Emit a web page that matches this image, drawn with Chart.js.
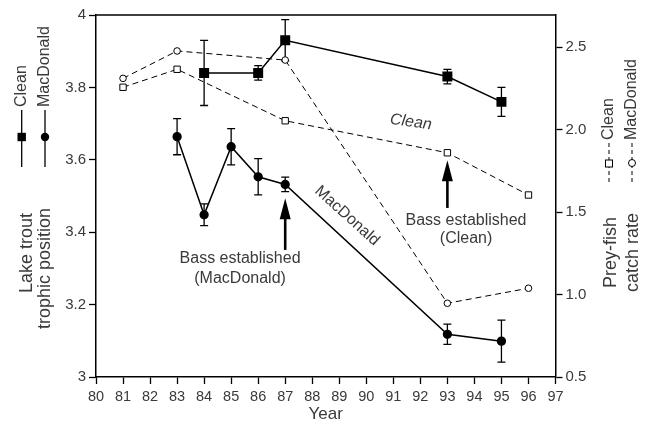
<!DOCTYPE html>
<html>
<head>
<meta charset="utf-8">
<script src="https://cdn.jsdelivr.net/npm/chart.js@4.4.0/dist/chart.umd.min.js"></script>
<style>
  html, body { margin: 0; padding: 0; background: #fff; }
  #wrap { width: 652px; height: 423px; }
</style>
</head>
<body>
<div id="wrap"><canvas id="chart"></canvas></div>
<script>
// lake trout trophic position (left axis)
const cleanTpYears = [84, 86, 87, 93, 95];
const cleanTp = [3.84, 3.84, 3.93, 3.83, 3.76];
const cleanTpErr = [0.09, 0.02, 0.057, 0.02, 0.04];

const macTpYears = [83, 84, 85, 86, 87, 93, 95];
const macTp = [3.664, 3.448, 3.636, 3.553, 3.532, 3.118, 3.099];
const macTpErr = [0.05, 0.03, 0.05, 0.05, 0.02, 0.028, 0.058];

// prey-fish catch rate (right axis)
const preyYears = [81, 83, 87, 93, 96];
const cleanPrey = [2.256, 2.365, 2.053, 1.859, 1.603];
const macPrey = [2.31, 2.476, 2.421, 0.947, 1.038];

const leftTicks = [3, 3.2, 3.4, 3.6, 3.8, 4];
const rightTicks = [0.5, 1.0, 1.5, 2.0, 2.5];

// bass arrows: year, tip and tail on the left axis
const arrowYears = [87, 93];
const arrowTip = [3.494, 3.599];
const arrowTail = [3.351, 3.467];

const FONT = '"Liberation Sans", Arial, Helvetica, sans-serif';
const TXT = '#3a3a3a';

function pts(xs, ys) { return xs.map((x, i) => ({ x: x, y: ys[i] })); }

const errorBars = {
  id: 'errorBars',
  beforeDatasetsDraw(chart) {
    const ctx = chart.ctx, sx = chart.scales.x, sy = chart.scales.y;
    ctx.save();
    ctx.strokeStyle = '#000';
    ctx.lineWidth = 1.3;
    const sets = [[cleanTpYears, cleanTp, cleanTpErr], [macTpYears, macTp, macTpErr]];
    sets.forEach(([xs, ys, es]) => {
      xs.forEach((yr, i) => {
        const px = sx.getPixelForValue(yr);
        const top = sy.getPixelForValue(ys[i] + es[i]);
        const bot = sy.getPixelForValue(ys[i] - es[i]);
        ctx.beginPath();
        ctx.moveTo(px, top); ctx.lineTo(px, bot);
        ctx.moveTo(px - 4, top); ctx.lineTo(px + 4, top);
        ctx.moveTo(px - 4, bot); ctx.lineTo(px + 4, bot);
        ctx.stroke();
      });
    });
    ctx.restore();
  }
};

function rotText(ctx, text, x, y, align, base, font) {
  ctx.save();
  ctx.translate(x, y);
  ctx.rotate(-Math.PI / 2);
  ctx.font = font;
  ctx.textAlign = align;
  ctx.textBaseline = base;
  ctx.fillText(text, 0, 0);
  ctx.restore();
}

const extras = {
  id: 'extras',
  afterDraw(chart) {
    const ctx = chart.ctx, sx = chart.scales.x, sy = chart.scales.y;
    const a = chart.chartArea;
    ctx.save();
    // top frame line
    ctx.strokeStyle = '#000';
    ctx.lineWidth = 1.5;
    ctx.beginPath();
    ctx.moveTo(a.left, a.top); ctx.lineTo(a.right, a.top);
    ctx.stroke();

    // arrows
    arrowYears.forEach((yr, i) => {
      const px = sx.getPixelForValue(yr);
      const tip = sy.getPixelForValue(arrowTip[i]);
      const tail = sy.getPixelForValue(arrowTail[i]);
      ctx.lineWidth = 2.6;
      ctx.beginPath();
      ctx.moveTo(px, tail); ctx.lineTo(px, tip + 15);
      ctx.stroke();
      ctx.fillStyle = '#000';
      ctx.beginPath();
      ctx.moveTo(px, tip);
      ctx.lineTo(px - 5.5, tip + 21);
      ctx.lineTo(px + 5.5, tip + 21);
      ctx.closePath();
      ctx.fill();
    });

    ctx.fillStyle = TXT;
    ctx.font = '16px ' + FONT;
    ctx.textAlign = 'center';
    ctx.textBaseline = 'middle';
    ctx.fillText('Bass established', sx.getPixelForValue(85.33), sy.getPixelForValue(3.326));
    ctx.fillText('(MacDonald)', sx.getPixelForValue(85.33), sy.getPixelForValue(3.273));
    ctx.fillText('Bass established', sx.getPixelForValue(93.69), sy.getPixelForValue(3.431));
    ctx.fillText('(Clean)', sx.getPixelForValue(93.69), sy.getPixelForValue(3.381));

    // line labels
    ctx.save();
    ctx.translate(sx.getPixelForValue(91.65), sy.getPixelForValue(3.704));
    ctx.rotate(7.5 * Math.PI / 180);
    ctx.font = 'italic 16px ' + FONT;
    ctx.fillText('Clean', 0, 0);
    ctx.restore();
    ctx.save();
    ctx.translate(sx.getPixelForValue(89.29), sy.getPixelForValue(3.445));
    ctx.rotate(42 * Math.PI / 180);
    ctx.font = '16px ' + FONT;
    ctx.fillText('MacDonald', 0, 0);
    ctx.restore();

    // axis titles
    ctx.font = '17px ' + FONT;
    ctx.fillText('Year', (a.left + a.right) / 2, 414);
    rotText(ctx, 'Lake trout', 32, 213, 'right', 'alphabetic', '18px ' + FONT);
    rotText(ctx, 'trophic position', 50, 208, 'right', 'alphabetic', '18px ' + FONT);
    rotText(ctx, 'Prey-fish', 616, 217, 'right', 'alphabetic', '18px ' + FONT);
    rotText(ctx, 'catch rate', 638, 213, 'right', 'alphabetic', '18px ' + FONT);

    // left legend (solid lines, filled markers)
    ctx.strokeStyle = '#000';
    ctx.fillStyle = '#000';
    ctx.lineWidth = 1.3;
    [[21.7, 'sq'], [45, 'ci']].forEach(([lx, m]) => {
      ctx.beginPath();
      ctx.moveTo(lx, 110); ctx.lineTo(lx, 167);
      ctx.stroke();
      if (m === 'sq') ctx.fillRect(lx - 4.2, 137 - 4.2, 8.4, 8.4);
      else { ctx.beginPath(); ctx.arc(lx, 137, 4.2, 0, Math.PI * 2); ctx.fill(); }
    });
    ctx.fillStyle = TXT;
    rotText(ctx, 'Clean', 22, 107, 'left', 'middle', '16px ' + FONT);
    rotText(ctx, 'MacDonald', 45, 107, 'left', 'middle', '16px ' + FONT);

    // right legend (dashed lines, open markers)
    ctx.strokeStyle = '#000';
    ctx.lineWidth = 1;
    [[609, 'sq'], [632, 'ci']].forEach(([lx, m]) => {
      ctx.setLineDash([4, 3]);
      ctx.beginPath();
      ctx.moveTo(lx, 143); ctx.lineTo(lx, 185);
      ctx.stroke();
      ctx.setLineDash([]);
      ctx.fillStyle = '#fff';
      if (m === 'sq') { ctx.fillRect(lx - 3.5, 160, 7, 7); ctx.strokeRect(lx - 3.5, 160, 7, 7); }
      else { ctx.beginPath(); ctx.arc(lx, 163, 3.5, 0, Math.PI * 2); ctx.fill(); ctx.stroke(); }
    });
    ctx.fillStyle = TXT;
    rotText(ctx, 'Clean', 609, 140, 'left', 'middle', '16px ' + FONT);
    rotText(ctx, 'MacDonald', 632, 140, 'left', 'middle', '16px ' + FONT);
    ctx.restore();
  }
};

const axisCommon = {
  border: { color: '#000', width: 1.5 },
  grid: { display: true, drawOnChartArea: false, tickLength: 7, tickColor: '#000', tickWidth: 1.3 },
  ticks: { color: TXT, font: { family: FONT, size: 15 }, padding: 3 }
};

new Chart(document.getElementById('chart'), {
  type: 'line',
  data: {
    datasets: [
      {
        label: 'Clean trophic',
        data: pts(cleanTpYears, cleanTp),
        yAxisID: 'y',
        borderColor: '#000', borderWidth: 1.5,
        pointStyle: 'rect', pointRadius: 6, pointBackgroundColor: '#000', pointBorderColor: '#000',
        order: 0
      },
      {
        label: 'MacDonald trophic',
        data: pts(macTpYears, macTp),
        yAxisID: 'y',
        borderColor: '#000', borderWidth: 1.5,
        pointStyle: 'circle', pointRadius: 3.9, pointBackgroundColor: '#000', pointBorderColor: '#000',
        order: 0
      },
      {
        label: 'Clean prey',
        data: pts(preyYears, cleanPrey),
        yAxisID: 'y2',
        borderColor: '#000', borderWidth: 1, borderDash: [6, 4],
        pointStyle: 'rect', pointRadius: 4.5, pointBorderWidth: 1,
        pointBackgroundColor: '#fff', pointBorderColor: '#000',
        order: 1
      },
      {
        label: 'MacDonald prey',
        data: pts(preyYears, macPrey),
        yAxisID: 'y2',
        borderColor: '#000', borderWidth: 1, borderDash: [6, 4],
        pointStyle: 'circle', pointRadius: 3.3, pointBorderWidth: 1,
        pointBackgroundColor: '#fff', pointBorderColor: '#000',
        order: 1
      }
    ]
  },
  options: {
    responsive: true,
    maintainAspectRatio: false,
    animation: false,
    layout: { padding: { top: 15 } },
    plugins: { legend: { display: false }, tooltip: { enabled: false } },
    scales: {
      x: {
        ...axisCommon,
        type: 'linear', min: 80, max: 97,
        ticks: { ...axisCommon.ticks, font: { family: FONT, size: 14.5 }, padding: 4, stepSize: 1, maxRotation: 0, autoSkip: false },
        afterFit(s) { s.height = 46; }
      },
      y: {
        ...axisCommon,
        position: 'left', min: 3, max: 4,
        afterBuildTicks(s) { s.ticks = leftTicks.map(v => ({ value: v })); },
        ticks: {
          ...axisCommon.ticks,
          callback: v => (Math.abs(v - 3) < 1e-6 || Math.abs(v - 4) < 1e-6) ? String(Math.round(v)) : v.toFixed(1)
        },
        afterFit(s) { s.width = 96; }
      },
      y2: {
        ...axisCommon,
        position: 'right', min: 0.5, max: 2.694,
        afterBuildTicks(s) { s.ticks = rightTicks.map(v => ({ value: v })); },
        ticks: { ...axisCommon.ticks, callback: v => v.toFixed(1) },
        afterFit(s) { s.width = 96.5; }
      }
    }
  },
  plugins: [errorBars, extras]
});
</script>
</body>
</html>
